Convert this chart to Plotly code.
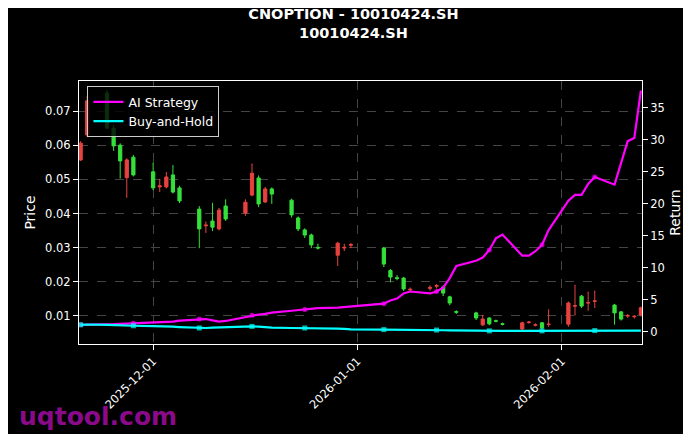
import plotly.graph_objects as go

dates = ["2025-11-20","2025-11-21","2025-11-24","2025-11-25","2025-11-26","2025-11-27","2025-11-28",
"2025-12-01","2025-12-02","2025-12-03","2025-12-04","2025-12-05","2025-12-08","2025-12-09","2025-12-10",
"2025-12-11","2025-12-12","2025-12-15","2025-12-16","2025-12-17","2025-12-18","2025-12-19","2025-12-22",
"2025-12-23","2025-12-24","2025-12-25","2025-12-26","2025-12-29","2025-12-30","2025-12-31","2026-01-05",
"2026-01-06","2026-01-07","2026-01-08","2026-01-09","2026-01-12","2026-01-13","2026-01-14","2026-01-15",
"2026-01-16","2026-01-19","2026-01-20","2026-01-21","2026-01-22","2026-01-23","2026-01-26","2026-01-27",
"2026-01-28","2026-01-29","2026-01-30","2026-02-02","2026-02-03","2026-02-04","2026-02-05","2026-02-06",
"2026-02-09","2026-02-10","2026-02-11","2026-02-12","2026-02-13"]
open_ = [0.0557,0.0630,0.0753,0.0650,0.0600,0.0505,0.0565,0.0522,0.0478,0.0478,0.0513,0.0475,0.0413,0.0364,0.0378,
0.0355,0.0422,0.0401,0.0454,0.0504,0.0434,0.0472,0.0439,0.0387,0.0352,0.0337,0.0301,0.0278,0.0299,0.0307,0.0299,
0.0233,0.0212,0.0211,0.0176,0.0181,0.0187,0.0185,0.0156,0.0113,0.0109,0.0074,0.0094,0.0086,0.0077,0.0062,0.0081,
0.0073,0.0080,0.0075,0.0076,0.0129,0.0158,0.0138,0.0143,0.0132,0.0112,0.0100,0.0098,0.0103]
close = [0.0606,0.0730,0.0650,0.0598,0.0554,0.0557,0.0513,0.0475,0.0481,0.0507,0.0463,0.0437,0.0355,0.0366,0.0360,
0.0410,0.0384,0.0433,0.0518,0.0428,0.0472,0.0457,0.0396,0.0355,0.0337,0.0308,0.0299,0.0313,0.0301,0.0309,0.0252,
0.0214,0.0210,0.0179,0.0178,0.0183,0.0189,0.0167,0.0138,0.0111,0.0094,0.0091,0.0077,0.0085,0.0076,0.0080,0.0082,
0.0074,0.0065,0.0076,0.0138,0.0130,0.0129,0.0139,0.0144,0.0109,0.0091,0.0101,0.0099,0.0124]
high = [0.0610,0.0742,0.0760,0.0658,0.0604,0.0560,0.0570,0.0548,0.0500,0.0520,0.0540,0.0480,0.0420,0.0375,0.0430,
0.0415,0.0440,0.0440,0.0545,0.0510,0.0476,0.0475,0.0442,0.0390,0.0355,0.0340,0.0310,0.0316,0.0310,0.0312,0.0301,
0.0236,0.0218,0.0213,0.0182,0.0188,0.0192,0.0188,0.0158,0.0115,0.0111,0.0102,0.0095,0.0088,0.0079,0.0082,0.0084,
0.0077,0.0081,0.0118,0.0141,0.0190,0.0160,0.0170,0.0173,0.0134,0.0113,0.0104,0.0101,0.0126]
low = [0.0555,0.0625,0.0650,0.0585,0.0504,0.0448,0.0510,0.0470,0.0465,0.0475,0.0460,0.0432,0.0300,0.0345,0.0350,
0.0352,0.0380,0.0395,0.0452,0.0420,0.0432,0.0430,0.0390,0.0350,0.0330,0.0300,0.0296,0.0248,0.0292,0.0300,0.0245,
0.0200,0.0206,0.0175,0.0172,0.0176,0.0182,0.0160,0.0133,0.0108,0.0090,0.0072,0.0074,0.0083,0.0074,0.0060,0.0079,
0.0071,0.0062,0.0070,0.0070,0.0103,0.0125,0.0117,0.0125,0.0076,0.0088,0.0096,0.0094,0.0100]
ai_return = [1.1,1.1,1.15,1.2,1.25,1.3,1.35,1.4,1.45,1.5,1.6,1.75,2.0,2.0,1.8,1.6,1.7,2.3,2.6,2.7,2.8,3.0,3.3,3.4,3.5,
3.6,3.7,3.8,3.9,4.0,4.4,4.9,5.2,6.0,6.3,6.0,6.3,6.9,8.4,10.3,11.1,11.6,12.8,14.6,15.2,11.9,11.9,12.6,13.6,15.9,
20.5,21.4,21.4,23.1,24.2,23.0,26.4,29.8,30.3,37.7]
bh_return = [1.1,1.15,1.1,1.05,1.0,1.0,0.95,0.9,0.9,0.85,0.8,0.75,0.6,0.6,0.65,0.7,0.75,0.85,0.85,0.8,0.7,0.65,0.6,
0.6,0.6,0.55,0.5,0.5,0.45,0.4,0.35,0.35,0.3,0.3,0.3,0.3,0.28,0.25,0.22,0.2,0.18,0.17,0.15,0.15,0.15,0.15,0.15,
0.15,0.15,0.2,0.2,0.2,0.2,0.2,0.2,0.2,0.2,0.2,0.2,0.2]

mk = list(range(0, len(dates), 6))
sizes = [5 if i in mk else 0 for i in range(len(dates))]
fig = go.Figure()
fig.add_trace(go.Candlestick(x=dates, open=open_, high=high, low=low, close=close,
    increasing=dict(line=dict(color="#e8423f", width=1), fillcolor="#e8423f"),
    decreasing=dict(line=dict(color="#35e03a", width=1), fillcolor="#35e03a"),
    whiskerwidth=0.3, showlegend=False, yaxis="y"))
fig.add_trace(go.Scatter(x=dates, y=ai_return, name="AI Strategy", yaxis="y2", mode="lines+markers",
    line=dict(color="#ff00ff", width=2.2), marker=dict(size=sizes, color="#ff00ff", line=dict(width=0))))
fig.add_trace(go.Scatter(x=dates, y=bh_return, name="Buy-and-Hold", yaxis="y2", mode="lines+markers",
    line=dict(color="#00ffff", width=2.2), marker=dict(size=sizes, color="#00ffff", symbol="square", line=dict(width=0))))

grid = dict(showgrid=True, gridcolor="#444", griddash="dash", gridwidth=0.6)
fig.update_layout(
    width=691, height=434, paper_bgcolor="black", plot_bgcolor="black",
    font=dict(family="DejaVu Sans", color="white", size=11.5),
    margin=dict(l=71, r=57, t=73, b=98, autoexpand=False),
    title=dict(text="<b>CNOPTION - 10010424.SH<br>10010424.SH</b>", x=0.5, xanchor="center", y=0.975, yanchor="top",
               font=dict(size=14.5, color="white")),
    xaxis=dict(type="date", range=["2025-11-19 18:00", "2026-02-13 04:00"], rangeslider=dict(visible=False),
               tickvals=["2025-12-01", "2026-01-01", "2026-02-01"], ticktext=["2025-12-01", "2026-01-01", "2026-02-01"],
               tickangle=-45, ticks="outside", tickcolor="white", showline=True, linecolor="white", mirror=True,
               automargin=False, **grid),
    yaxis=dict(title=dict(text="Price", standoff=6), range=[0.0018, 0.0788], tickvals=[0.01,0.02,0.03,0.04,0.05,0.06,0.07],
               tickformat=".2f", ticks="outside", tickcolor="white", showline=True, linecolor="white", zeroline=False,
               automargin=False, **grid),
    yaxis2=dict(title=dict(text="Return", standoff=6), overlaying="y", side="right", range=[-1.9, 39.2],
                tickvals=[0,5,10,15,20,25,30,35], ticks="outside", tickcolor="white", showline=True, linecolor="white",
                showgrid=False, zeroline=False, automargin=False),
    legend=dict(x=0.015, y=0.98, xanchor="left", yanchor="top", bgcolor="rgba(0,0,0,0.8)", bordercolor="#ccc",
                borderwidth=1, font=dict(size=12.5)),
    annotations=[dict(text="<b>uqtool.com</b>", xref="paper", yref="paper", x=-0.11, y=-0.275, xanchor="left",
                      yanchor="middle", showarrow=False, font=dict(size=25, color="#8a0a8a"))],
)
fig.write_html("out.html")
